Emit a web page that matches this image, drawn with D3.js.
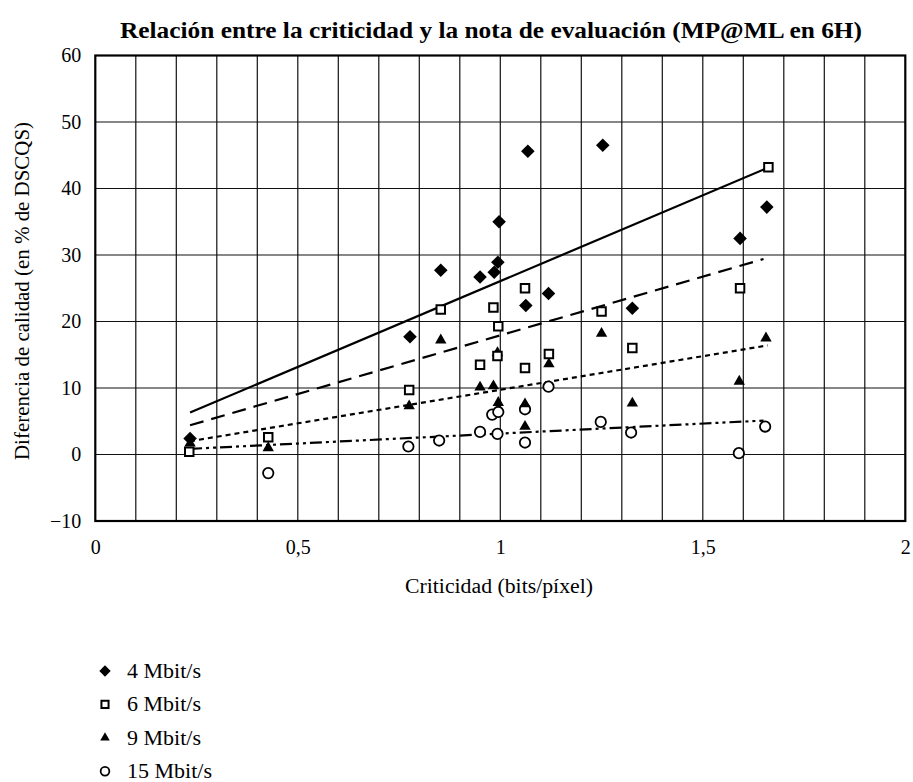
<!DOCTYPE html>
<html>
<head>
<meta charset="utf-8">
<script src="https://d3js.org/d3.v7.min.js"></script>
<style>
  body { margin: 0; background: #fff; }
  text { font-family: "Liberation Serif", "Times New Roman", serif; fill: #000; }
</style>
</head>
<body>
<div id="chart"></div>
<script>
// series names
var seriesNames = ["4 Mbit/s", "6 Mbit/s", "9 Mbit/s", "15 Mbit/s"];

// [criticidad, diferencia] pairs
var pts4 = [[0.234, 2.4], [0.777, 17.7], [0.853, 27.7], [0.950, 26.7], [0.985, 27.4], [0.994, 28.9],
            [0.997, 35.0], [1.063, 22.4], [1.068, 45.6], [1.119, 24.2], [1.253, 46.5], [1.326, 22.0],
            [1.592, 32.5], [1.658, 37.2]];
var pts6 = [[0.232, 0.4], [0.427, 2.6], [0.775, 9.7], [0.853, 21.8], [0.950, 13.5], [0.983, 22.1],
            [0.995, 19.3], [0.993, 14.8], [1.061, 25.0], [1.061, 13.0], [1.120, 15.1], [1.250, 21.5],
            [1.326, 16.0], [1.592, 25.0], [1.662, 43.2]];
var pts9 = [[0.234, 1.7], [0.427, 1.0], [0.775, 7.3], [0.853, 17.2], [0.950, 10.1], [0.983, 10.3],
            [0.995, 7.8], [0.993, 15.3], [1.061, 7.6], [1.061, 4.2], [1.120, 13.6], [1.250, 18.2],
            [1.326, 7.7], [1.590, 11.0], [1.656, 17.5]];
var pts15 = [[0.427, -2.8], [0.773, 1.2], [0.849, 2.1], [0.950, 3.4], [0.980, 6.0], [0.995, 6.4],
             [0.993, 3.1], [1.061, 6.8], [1.061, 1.8], [1.119, 10.2], [1.248, 4.9], [1.323, 3.3],
             [1.589, 0.2], [1.654, 4.2]];

// trend line end points
var trend4 = [[0.234, 6.3], [1.656, 43.0]];
var trend6 = [[0.234, 4.4], [1.650, 29.4]];
var trend9 = [[0.234, 2.0], [1.660, 16.4]];
var trend15 = [[0.234, 0.85], [1.650, 5.1]];

var xTicks = [0, 0.5, 1, 1.5, 2];
var xTickLabels = ["0", "0,5", "1", "1,5", "2"];
var yTicks = [-10, 0, 10, 20, 30, 40, 50, 60];

var width = 913, height = 782;
var svg = d3.select("#chart").append("svg").attr("width", width).attr("height", height);

var x = d3.scaleLinear().domain([0, 2]).range([95.3, 905.3]);
var y = d3.scaleLinear().domain([-10, 60]).range([521, 55.5]);

// grid
var grid = svg.append("g");
grid.selectAll("line.v")
    .data(d3.range(1, 20).map(function(i) { return i / 10; }))
  .enter().append("line")
    .attr("x1", function(d) { return x(d); }).attr("x2", function(d) { return x(d); })
    .attr("y1", y(60)).attr("y2", y(-10))
    .attr("stroke", "#111").attr("stroke-width", 1.2);
grid.selectAll("line.h")
    .data(yTicks.slice(1, -1))
  .enter().append("line")
    .attr("y1", function(d) { return y(d); }).attr("y2", function(d) { return y(d); })
    .attr("x1", x(0)).attr("x2", x(2))
    .attr("stroke", "#111").attr("stroke-width", 1.2);
svg.append("rect")
    .attr("x", x(0)).attr("y", y(60))
    .attr("width", x(2) - x(0)).attr("height", y(-10) - y(60))
    .attr("fill", "none").attr("stroke", "#000").attr("stroke-width", 2.2);

// axes (labels only, the frame is drawn above)
var xAxis = svg.append("g").attr("transform", "translate(0," + y(-10) + ")")
    .call(d3.axisBottom(x).tickValues(xTicks).tickSize(0).tickPadding(19)
      .tickFormat(function(d, i) { return xTickLabels[i]; }));
xAxis.select(".domain").remove();
xAxis.selectAll("text").attr("font-size", 20).attr("font-family", "Liberation Serif");

var yAxis = svg.append("g").attr("transform", "translate(" + x(0) + ",0)")
    .call(d3.axisLeft(y).tickValues(yTicks).tickSize(0).tickPadding(14)
      .tickFormat(function(d) { return d < 0 ? "\u2212" + Math.abs(d) : d; }));
yAxis.select(".domain").remove();
yAxis.selectAll("text").attr("font-size", 20).attr("font-family", "Liberation Serif");

// titles
svg.append("text").attr("x", 491).attr("y", 38).attr("text-anchor", "middle")
    .attr("font-size", 24).attr("font-weight", "bold")
    .attr("textLength", 742).attr("lengthAdjust", "spacingAndGlyphs")
    .text("Relación entre la criticidad y la nota de evaluación (MP@ML en 6H)");
svg.append("text").attr("x", 499).attr("y", 593).attr("text-anchor", "middle")
    .attr("font-size", 20).attr("textLength", 188).attr("lengthAdjust", "spacingAndGlyphs")
    .text("Criticidad (bits/píxel)");
svg.append("text").attr("transform", "translate(29,291) rotate(-90)").attr("text-anchor", "middle")
    .attr("font-size", 20).attr("textLength", 338).attr("lengthAdjust", "spacingAndGlyphs")
    .text("Diferencia de calidad (en % de DSCQS)");

// trend lines
var line = d3.line().x(function(d) { return x(d[0]); }).y(function(d) { return y(d[1]); });
var trends = [
  { pts: trend4, dash: null },
  { pts: trend6, dash: "14,8" },
  { pts: trend9, dash: "5,4" },
  { pts: trend15, dash: "12,4,3,4,3,4" }
];
trends.forEach(function(t) {
  svg.append("path").attr("d", line(t.pts)).attr("fill", "none")
      .attr("stroke", "#000").attr("stroke-width", 2.2)
      .attr("stroke-dasharray", t.dash);
});

// markers
function marker(sel, kind, scale) {
  if (kind == 0) {
    sel.append("path").attr("d", d3.symbol().type(d3.symbolSquare).size(92 * scale)())
        .attr("transform", "rotate(45)").attr("fill", "#000");
  } else if (kind == 1) {
    sel.append("path").attr("d", d3.symbol().type(d3.symbolSquare).size(72 * scale)())
        .attr("fill", "#fff").attr("stroke", "#000").attr("stroke-width", 2);
  } else if (kind == 2) {
    sel.append("path").attr("d", d3.symbol().type(d3.symbolTriangle).size(56 * scale)())
        .attr("fill", "#000");
  } else {
    sel.append("circle").attr("r", 5.2 * Math.sqrt(scale))
        .attr("fill", "#fff").attr("stroke", "#000").attr("stroke-width", 1.8);
  }
}

var allSeries = [pts15, pts9, pts6, pts4];
var kinds = [3, 2, 1, 0];
allSeries.forEach(function(pts, k) {
  svg.append("g").selectAll("g")
      .data(pts)
    .enter().append("g")
      .attr("transform", function(d) { return "translate(" + x(d[0]) + "," + y(d[1]) + ")"; })
      .each(function() { marker(d3.select(this), kinds[k], 1); });
});

// legend
var legend = svg.append("g");
seriesNames.forEach(function(name, i) {
  var gy = 671 + i * 33.4;
  var g = legend.append("g").attr("transform", "translate(105," + gy + ")");
  marker(g, i, 0.7);
  legend.append("text").attr("x", 127).attr("y", gy + 7).attr("font-size", 22).text(name);
});
</script>
</body>
</html>
